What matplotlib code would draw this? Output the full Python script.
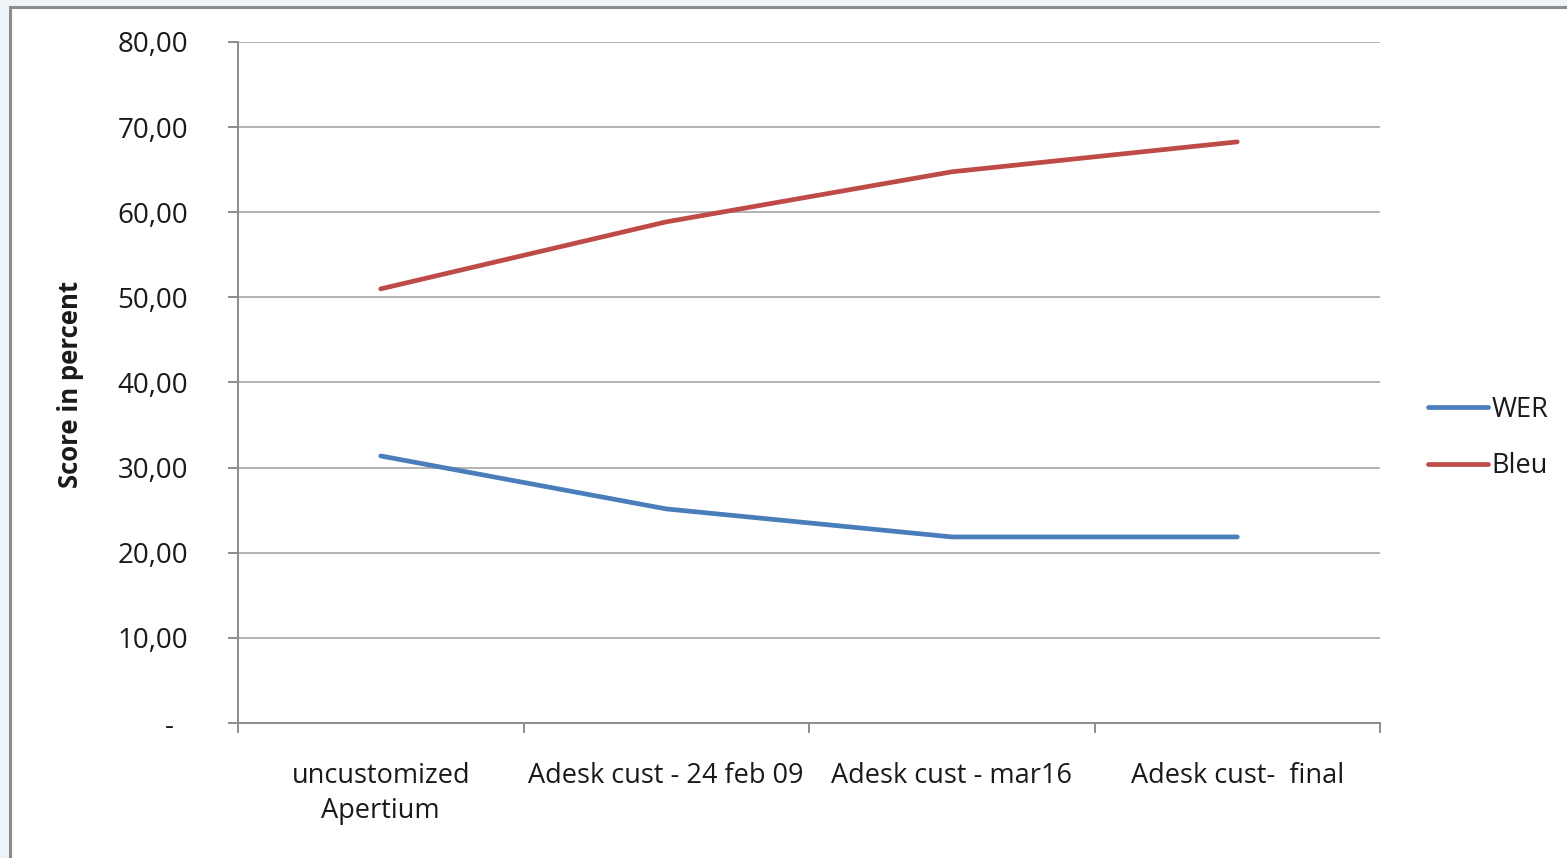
import matplotlib
matplotlib.use("Agg")
import matplotlib.pyplot as plt
from matplotlib.patches import Rectangle
from matplotlib.lines import Line2D
from matplotlib.ticker import FuncFormatter, MultipleLocator

categories = ["uncustomized\nApertium", "Adesk cust - 24 feb 09", "Adesk cust - mar16", "Adesk cust-  final"]
wer = [31.37, 25.15, 21.86, 21.86]
bleu = [51.00, 58.87, 64.75, 68.27]
series_names = ["WER", "Bleu"]
series_colors = ["#4A7EBB", "#BE4B48"]

plt.rcParams["font.family"] = ["Open Sans", "DejaVu Sans"]

fig = plt.figure(figsize=(15.67, 8.58), dpi=100)
fig.patch.set_facecolor("white")

# outer chart frame
fig.patches.append(Rectangle((10 / 1567, -0.05), 1.2, 1 - 7 / 858 + 0.05,
                             transform=fig.transFigure, fill=False,
                             edgecolor="#8C8C8C", linewidth=2.2, zorder=0))
# faint strip outside the frame
fig.patches.append(Rectangle((0, 0), 9 / 1567, 1, transform=fig.transFigure,
                             facecolor="#EEF3F8", edgecolor="none", zorder=0))
fig.patches.append(Rectangle((0, 1 - 6 / 858), 1, 6 / 858, transform=fig.transFigure,
                             facecolor="#EEF3F8", edgecolor="none", zorder=0))

ax = fig.add_axes([238 / 1567, 1 - 723 / 858, (1380 - 238) / 1567, (723 - 42) / 858])
x = list(range(len(categories)))
ax.plot(x, wer, color=series_colors[0], linewidth=3.4, solid_capstyle="round", zorder=3)
ax.plot(x, bleu, color=series_colors[1], linewidth=3.4, solid_capstyle="round", zorder=3)

ax.set_xlim(-0.5, len(categories) - 0.5)
ax.set_ylim(0, 80)
ax.yaxis.set_major_locator(MultipleLocator(10))
ax.yaxis.set_major_formatter(FuncFormatter(
    lambda v, p: "-  " if abs(v) < 1e-9 else f"{v:.2f}".replace(".", ",")))
ax.grid(axis="y", color="#B3B3B3", linewidth=1.4, zorder=1)
ax.set_axisbelow(True)

# category labels centred in their bands, ticks on band boundaries
ax.set_xticks([i - 0.5 for i in range(len(categories) + 1)])
ax.set_xticklabels([])
ax.set_xticks(x, minor=True)
ax.set_xticklabels(categories, minor=True, fontsize=19.5, color="#1A1A1A", linespacing=1.35)
ax.tick_params(axis="x", which="minor", length=0, pad=28)
ax.tick_params(axis="x", which="major", length=7, width=1.4, color="#8C8C8C", direction="out")
ax.tick_params(axis="y", length=7, width=1.4, color="#8C8C8C", labelsize=20,
               labelcolor="#1A1A1A", pad=29)

for s in ["top", "right"]:
    ax.spines[s].set_visible(False)
for s in ["left", "bottom"]:
    ax.spines[s].set_color("#8C8C8C")
    ax.spines[s].set_linewidth(1.4)

fig.text(70 / 1567, 1 - 384 / 858, "Score in percent", rotation=90, fontsize=18.5,
         fontweight="bold", color="#1A1A1A", ha="center", va="center")

handles = [Line2D([], [], color=c, linewidth=3.4, solid_capstyle="round") for c in series_colors]
leg = fig.legend(handles, series_names, loc="center left",
                 bbox_to_anchor=(1428 / 1567, 1 - 438 / 858), frameon=False,
                 fontsize=19.5, handlelength=2.2, handletextpad=0.15, labelspacing=1.05,
                 borderaxespad=0, borderpad=0)
for t in leg.get_texts():
    t.set_color("#1A1A1A")

fig.savefig("out.png", dpi=100, facecolor="white")
